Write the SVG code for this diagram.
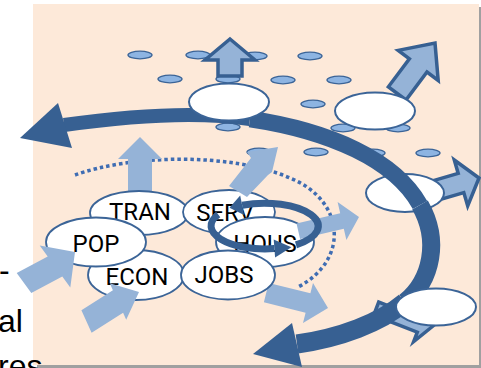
<svg xmlns="http://www.w3.org/2000/svg" width="481" height="368" viewBox="0 0 481 368">
<style>
.dot{fill:#8db4e2;stroke:#3b6497;stroke-width:1.3}
.big{fill:#fff;stroke:#3b6497;stroke-width:2}
.lab{fill:#fff;stroke:#3b6497;stroke-width:1.8}
.lt{font-family:Roboto,'Liberation Sans',sans-serif;font-size:24px;fill:#000;text-anchor:middle}
.side{font-family:'Liberation Sans',Arial,sans-serif;font-size:32px;fill:#000}
.la{fill:#95b3d7;stroke:none}
.oa{fill:#95b3d7;stroke:#376092;stroke-width:3.5;stroke-linejoin:miter}
.dk{fill:#376092}
.band{fill:none;stroke:#376092}
.loop{fill:none;stroke:#376092;stroke-width:7}
.dots{fill:none;stroke:#3f6db3;stroke-width:3.5;stroke-dasharray:3.5 3}
</style>
<rect x="0" y="0" width="481" height="368" fill="#fff"/>
<rect x="37" y="7" width="446" height="361" fill="#a0a0a0"/>
<rect x="33" y="4" width="446" height="361" fill="#fde9d9"/>
<text class="side" x="-1" y="281">-</text>
<text class="side" x="-2" y="332">al</text>
<text class="side" x="-2" y="377">res</text>
<g id="small-dots">
<ellipse class="dot" cx="140" cy="55" rx="12" ry="3.8"/>
<ellipse class="dot" cx="198" cy="55" rx="12" ry="3.8"/>
<ellipse class="dot" cx="255" cy="56" rx="12" ry="3.8"/>
<ellipse class="dot" cx="310" cy="56" rx="12" ry="3.8"/>
<ellipse class="dot" cx="170" cy="79" rx="12" ry="3.8"/>
<ellipse class="dot" cx="228" cy="79" rx="12" ry="3.8"/>
<ellipse class="dot" cx="283" cy="80" rx="12" ry="3.8"/>
<ellipse class="dot" cx="339" cy="80" rx="12" ry="3.8"/>
<ellipse class="dot" cx="313" cy="104" rx="12" ry="3.8"/>
<ellipse class="dot" cx="228" cy="127" rx="12" ry="3.8"/>
<ellipse class="dot" cx="343" cy="128" rx="12" ry="3.8"/>
<ellipse class="dot" cx="398" cy="128" rx="12" ry="3.8"/>
<ellipse class="dot" cx="259" cy="152" rx="12" ry="3.8"/>
<ellipse class="dot" cx="316" cy="152" rx="12" ry="3.8"/>
<ellipse class="dot" cx="373" cy="153" rx="12" ry="3.8"/>
<ellipse class="dot" cx="428" cy="153" rx="12" ry="3.8"/>
</g>
<g id="connectors-back">
<path class="dots" d="M75,175 C130,155 230,152 290,178 C345,200 350,260 298,287"/>
<polygon class="oa" points="435,43 438.2,80.4 427,72 406,100 388.4,86.8 409.4,58.8 398.2,50.4"/>
<polygon class="oa" points="479,178 467.7,206 463.8,192.6 439.8,199.6 434.2,180.4 458.2,173.4 454.3,160"/>
<polygon class="oa" points="438,322 413.7,341.5 417.3,332.2 373.7,315.2 378.7,302.1 422.3,319.1 429.5,300.5"/>
</g>
<g id="E3"><ellipse class="big" cx="405" cy="193" rx="39" ry="19"/></g>
<g id="connectors-band">
<path class="band" stroke-width="14" d="M64,125 C120,117 190,110 250,119"/>
<path class="band" stroke-width="16.5" d="M250,119 C330,131 395,160 420,205"/>
<path class="band" stroke-width="18" d="M420,205 C440,240 432,280 405,302"/>
<path class="band" stroke-width="19" d="M405,302 C380,323 340,338 297,344"/>
<polygon class="dk" points="20,138 58,103 72,148"/>
<polygon class="dk" points="253,354 292,323 302,367"/>
<polygon class="oa" points="230,39 255,60 242,60 242,76 218,76 218,60 205,60"/>
</g>
<g id="E1"><ellipse class="big" cx="229" cy="102" rx="40" ry="18.5"/></g>
<g id="E2"><ellipse class="big" cx="375" cy="111" rx="40" ry="18.5"/></g>
<g id="E4"><ellipse class="big" cx="436" cy="307" rx="40" ry="18.5"/></g>
<g id="connectors-light-back">
<polygon class="la" points="140,137 162,159 152,159 152,196 128,196 128,159 118,159"/>
<polygon class="la" points="328,308 303,323 305.6,312.7 263.9,302.3 268.7,282.9 310.4,293.3 313,283"/>
</g>
<g id="TRAN"><ellipse class="lab" cx="139" cy="213" rx="49" ry="22"/><text class="lt" x="140" y="220">TRAN</text></g>
<g id="SERV"><ellipse class="lab" cx="229" cy="212" rx="46" ry="22"/><text class="lt" x="225" y="221">SERV</text></g>
<g id="HOUS"><ellipse class="lab" cx="265" cy="242" rx="49" ry="25"/><text class="lt" x="265" y="252">HOUS</text></g>
<g id="ECON"><ellipse class="lab" cx="136" cy="275" rx="48" ry="25"/><text class="lt" x="137" y="285">ECON</text></g>
<g id="POP"><ellipse class="lab" cx="96" cy="242" rx="50" ry="24.5"/><text class="lt" x="96" y="252">POP</text></g>
<g id="JOBS"><ellipse class="lab" cx="228" cy="275" rx="47" ry="24.5"/><text class="lt" x="224" y="283">JOBS</text></g>
<g id="connectors-front">
<polygon class="la" points="278,147 272,172 268,175 247,197 229,186 251,158 247,152"/>
<polygon class="la" points="359,217 346.4,239.9 343.8,228.8 300.1,239.1 296.5,223.5 340.2,213.2 337.6,202.1"/>
<polygon class="la" points="75,252 70.3,287.6 62.3,276.6 31.3,293.1 16.7,272.9 47.7,256.4 39.7,245.4"/>
<polygon class="la" points="139,292 126.2,319.7 123.1,312.7 91.6,332.7 81.4,310.3 112.9,290.3 109.8,283.3"/>
<path class="loop" d="M296,244.8 A54,23 0 0 0 242.2,205.2"/>
<polygon class="dk" points="229.5,207.7 244.1,215 240.2,195.4"/>
<path class="loop" d="M218.2,214.5 A54,23 0 0 0 274.4,248.6"/>
<polygon class="dk" points="291.4,247.3 275.1,257.6 273.7,239.6"/>
</g>
</svg>
